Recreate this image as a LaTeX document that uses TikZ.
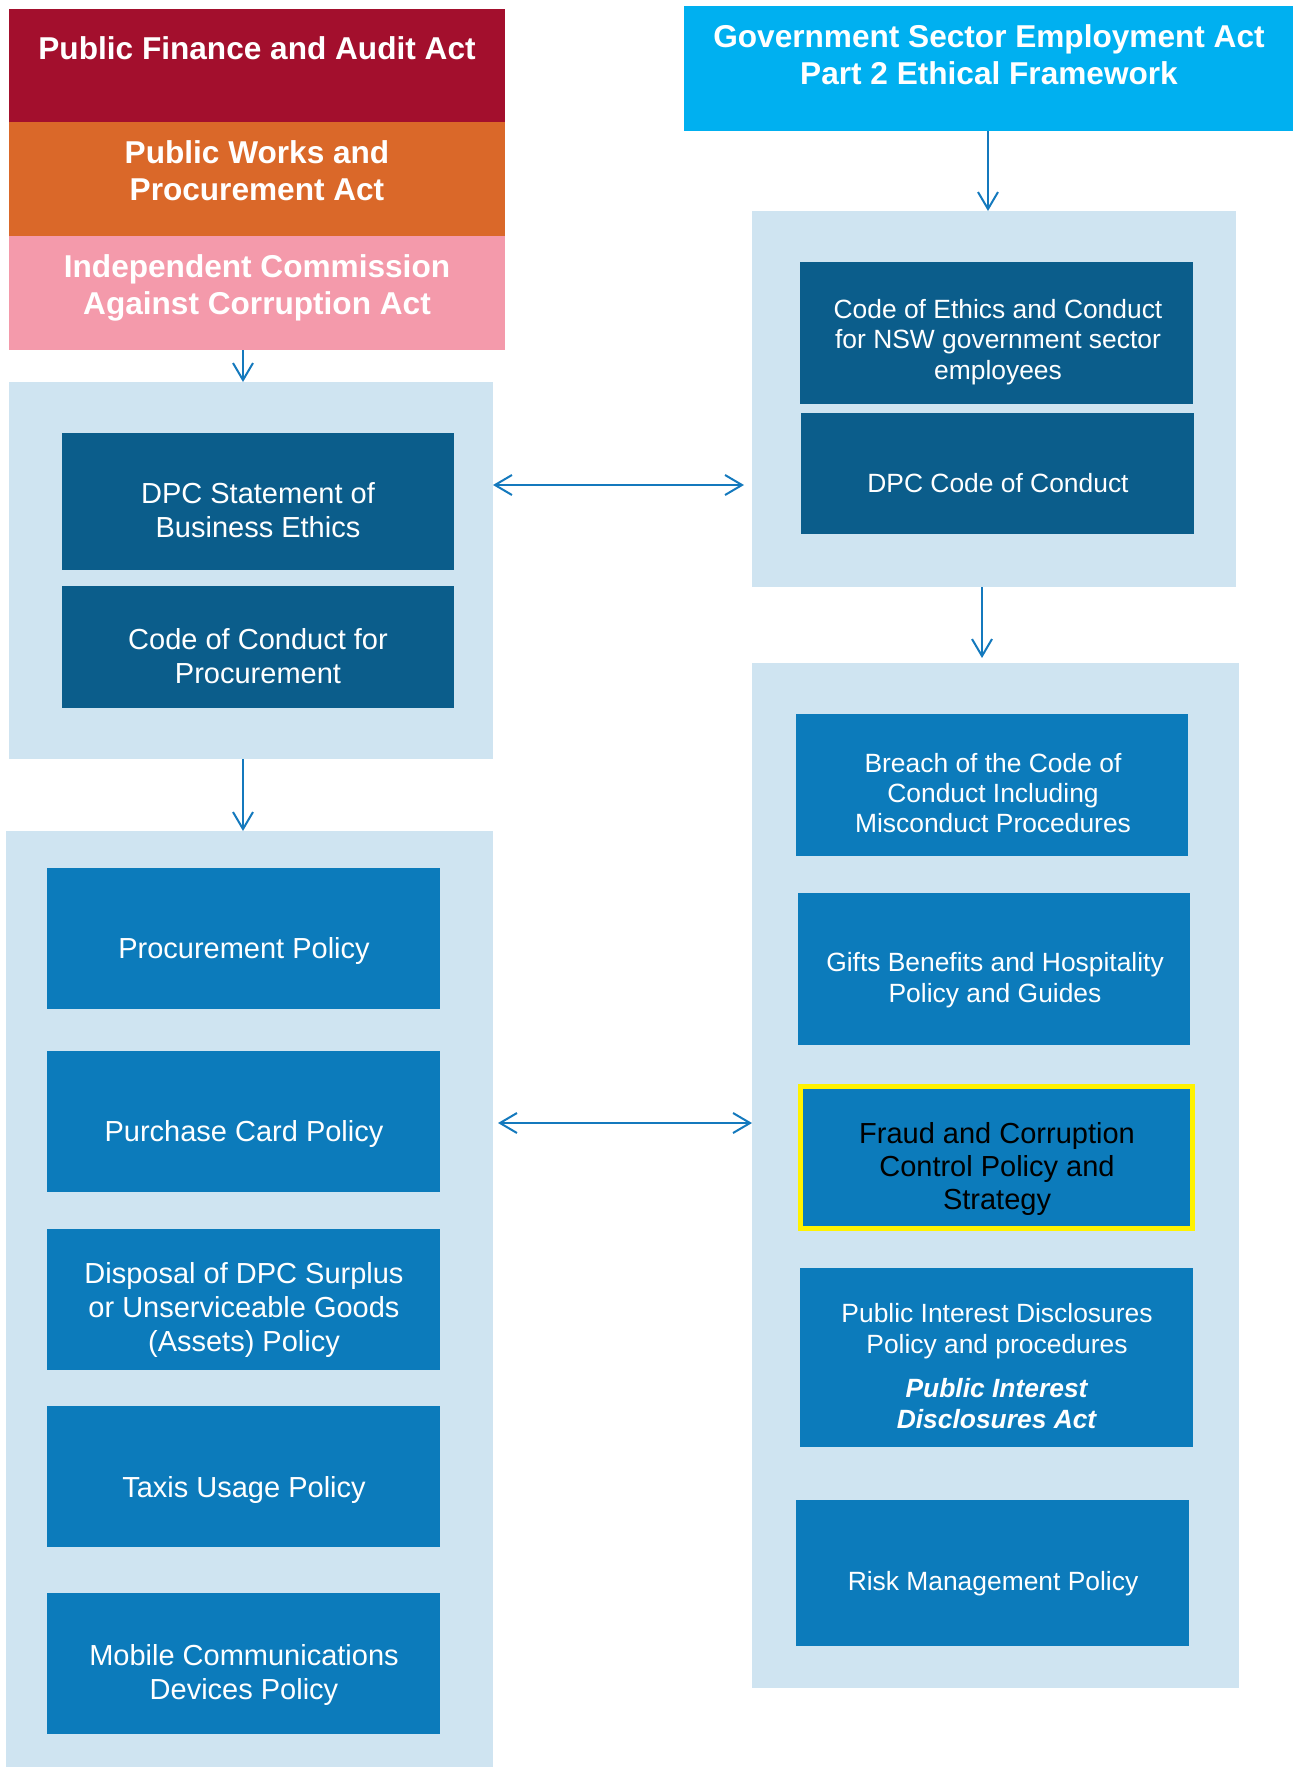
\documentclass[tikz,border=0pt]{standalone}
\usepackage{fontspec}
\setmainfont{Liberation Sans}
\usetikzlibrary{arrows.meta,fit}
\definecolor{actred}{HTML}{A30F2D}
\definecolor{actorange}{HTML}{DA6829}
\definecolor{actpink}{HTML}{F49AAB}
\definecolor{actcyan}{HTML}{00B0F0}
\definecolor{lightc}{HTML}{CFE4F1}
\definecolor{darkc}{HTML}{0B5D8B}
\definecolor{midc}{HTML}{0C7BBB}
\definecolor{arrc}{HTML}{1479BD}
\begin{document}
\begin{tikzpicture}[x=0.5pt,y=-0.5pt,
  plain/.style={draw=none,inner sep=0pt,outer sep=0pt},
  cont/.style={plain,fill=lightc},
  dbox/.style={plain,fill=darkc},
  mbox/.style={plain,fill=midc},
  hdr/.style={text=white,font=\fontsize{15.8}{18.3}\selectfont\bfseries,align=center,inner sep=0pt},
  ltxt/.style={text=white,font=\fontsize{14.5}{16.9}\selectfont,align=center,inner sep=0pt},
  rtxt/.style={text=white,font=\fontsize{13.2}{15.2}\selectfont,align=center,inner sep=0pt},
  ftxt/.style={text=black,font=\fontsize{14.5}{16.5}\selectfont,align=center,inner sep=0pt},
  conn/.style={draw=arrc,line width=1pt,-{Straight Barb[length=8.5pt,width=10pt]}},
  dconn/.style={draw=arrc,line width=1pt,{Straight Barb[length=8.5pt,width=10pt]}-{Straight Barb[length=8.5pt,width=10pt]}}]
\useasboundingbox (0,0) rectangle (1293,1767);

% acts
\node[plain,fill=actred,fit={(9,9) (505,122)}] (red) {};
\node[plain,fill=actorange,fit={(9,122) (505,236)}] (orange) {};
\node[plain,fill=actpink,fit={(9,236) (505,350)}] (pink) {};
\node[plain,fill=actcyan,fit={(684,6) (1293,131)}] (gse) {};
\node[hdr] (tred) at (257,48) {Public Finance and Audit Act};
\node[hdr] (torange) at (257,171) {Public Works and\\Procurement Act};
\node[hdr] (tpink) at (257,288) {Independent Commission\\Against Corruption Act};
\node[hdr] (tgse) at (989,55) {Government Sector Employment Act\\Part 2 Ethical Framework};

% containers
\node[cont,fit={(9,382) (493,759)}] (c1) {};
\node[cont,fit={(6,831) (493,1767)}] (c2) {};
\node[cont,fit={(752,211) (1236,587)}] (c3) {};
\node[cont,fit={(752,663) (1239,1688)}] (c4) {};

% left boxes
\node[dbox,fit={(62,433) (454,570)}] (dpcs) {};
\node[dbox,fit={(62,586) (454,708)}] (ccp) {};
\node[mbox,fit={(47,868) (440,1009)}] (pp) {};
\node[mbox,fit={(47,1051) (440,1192)}] (pcp) {};
\node[mbox,fit={(47,1229) (440,1370)}] (disp) {};
\node[mbox,fit={(47,1406) (440,1547)}] (taxi) {};
\node[mbox,fit={(47,1593) (440,1734)}] (mob) {};

\node[ltxt] (tdpcs) at (258,510) {DPC Statement of\\Business Ethics};
\node[ltxt] (tccp) at (258,656) {Code of Conduct for\\Procurement};
\node[ltxt] (tpp) at (244,951) {Procurement Policy};
\node[ltxt] (tpcp) at (244,1134) {Purchase Card Policy};
\node[ltxt] (tdisp) at (244,1310) {Disposal of DPC Surplus\\or Unserviceable Goods\\(Assets) Policy};
\node[ltxt] (ttaxi) at (244,1490) {Taxis Usage Policy};
\node[ltxt] (tmob) at (244,1675) {Mobile Communications\\Devices Policy};

% right boxes
\node[dbox,fit={(800,262) (1193,404)}] (coe) {};
\node[dbox,fit={(801,413) (1194,534)}] (dpcc) {};
\node[mbox,fit={(796,714) (1188,856)}] (breach) {};
\node[mbox,fit={(798,893) (1190,1045)}] (gifts) {};
\node[mbox,draw=yellow,line width=2.5pt,fit={(800,1086) (1192,1228)}] (fraud) {};
\node[mbox,fit={(800,1268) (1193,1447)}] (pid) {};
\node[mbox,fit={(796,1500) (1189,1646)}] (risk) {};

\node[rtxt] (tcoe) at (998,342) {Code of Ethics and Conduct\\for NSW government sector\\employees};
\node[rtxt] (tdpcc) at (998,483) {DPC Code of Conduct};
\node[rtxt] (tbreach) at (993,793) {Breach of the Code of\\Conduct Including\\Misconduct Procedures};
\node[rtxt] (tgifts) at (995,980) {Gifts Benefits and Hospitality\\Policy and Guides};
\node[ftxt] (tfraud) at (997,1169) {Fraud and Corruption\\Control Policy and\\Strategy};
\node[rtxt] (tpid) at (997,1366) {Public Interest Disclosures\\Policy and procedures\\[7pt]\textbf{\textit{Public Interest}}\\\textbf{\textit{Disclosures Act}}};
\node[rtxt] (trisk) at (993,1584) {Risk Management Policy};

% connectors
\coordinate (a1) at (243,0);
\coordinate (a3) at (988,0);
\coordinate (a4) at (982,0);
\draw[conn] (a1 |- pink.south) -- (a1 |- c1.north);
\draw[conn] (a1 |- c1.south) -- (a1 |- c2.north);
\draw[conn] (a3 |- gse.south) -- (a3 |- c3.north);
\draw[conn,shorten >=2.5pt] (a4 |- c3.south) -- (a4 |- c4.north);
\coordinate (d1) at (0,485);
\coordinate (d2) at (0,1123);
\draw[dconn,shorten >=4pt] (c1.east |- d1) -- (c3.west |- d1);
\draw[dconn,shorten <=2.5pt] (c2.east |- d2) -- (c4.west |- d2);
\end{tikzpicture}
\end{document}
